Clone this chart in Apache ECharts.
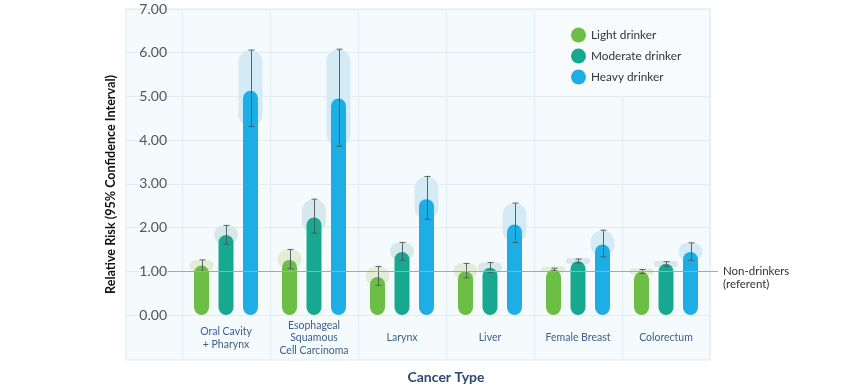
<!DOCTYPE html>
<html>
<head>
<meta charset="utf-8">
<script src="https://cdn.jsdelivr.net/npm/echarts@6/dist/echarts.min.js"></script>
<style>
html,body{margin:0;padding:0;background:#fff;}
#chart{width:850px;height:389px;}
</style>
</head>
<body>
<div id="chart"></div>
<script>
const categories = ['Oral Cavity\n+ Pharynx', 'Esophageal\nSquamous\nCell Carcinoma', 'Larynx', 'Liver', 'Female Breast', 'Colorectum'];
const seriesNames = ['Light drinker', 'Moderate drinker', 'Heavy drinker'];
const light     = [1.13, 1.26, 0.87, 1.00, 1.04, 0.99];
const lightLow  = [1.00, 1.06, 0.68, 0.85, 1.01, 0.95];
const lightHigh = [1.26, 1.50, 1.11, 1.18, 1.07, 1.04];
const moderate  = [1.83, 2.23, 1.44, 1.08, 1.23, 1.17];
const modLow    = [1.62, 1.87, 1.25, 0.97, 1.19, 1.11];
const modHigh   = [2.05, 2.65, 1.66, 1.20, 1.28, 1.22];
const heavy     = [5.13, 4.95, 2.65, 2.07, 1.61, 1.44];
const heavyLow  = [4.31, 3.86, 2.19, 1.66, 1.33, 1.25];
const heavyHigh = [6.06, 6.08, 3.17, 2.56, 1.94, 1.65];
const yTicks = [0, 1, 2, 3, 4, 5, 6, 7];
const referent = 1;
const refLabel = 'Non-drinkers\n(referent)';

const colors = ['#6DBE45', '#17A98F', '#1DAEE5'];
const paleColors = ['#E3ECD6', '#D6E8EA', '#D4EAF5'];
const values = [light, moderate, heavy];
const lows = [lightLow, modLow, heavyLow];
const highs = [lightHigh, modHigh, heavyHigh];

const barW = 15, gapPx = 9.5, bandW = 24;
const FONT = 'Lato';
const gridColor = '#E3EDF3';

const chart = echarts.init(document.getElementById('chart'), null, {renderer: 'canvas'});

function offsetFor(k) { return (k - 1) * (barW + gapPx); }

const series = [];
for (let k = 0; k < 3; k++) {
  series.push({
    name: seriesNames[k] + ' CI band',
    type: 'custom', xAxisIndex: 0, yAxisIndex: 0, z: 1, silent: true,
    data: categories.map((c, i) => [i, lows[k][i], highs[k][i]]),
    renderItem: (params, api) => {
      const p0 = api.coord([api.value(0), api.value(1)]);
      const p1 = api.coord([api.value(0), api.value(2)]);
      const cx = p0[0] + offsetFor(k);
      let top = p1[1], bot = p0[1];
      let h = bot - top;
      if (h < 6) { const m = (top + bot) / 2; top = m - 3; h = 6; }
      return {
        type: 'rect',
        shape: {x: cx - bandW / 2, y: top, width: bandW, height: h, r: Math.min(bandW / 2, h / 2)},
        style: {fill: paleColors[k]}
      };
    }
  });
}
for (let k = 0; k < 3; k++) {
  series.push({
    name: seriesNames[k], type: 'bar', xAxisIndex: 0, yAxisIndex: 0, z: 2,
    barWidth: barW, barGap: (gapPx / barW * 100) + '%',
    itemStyle: {color: colors[k], borderRadius: barW / 2},
    data: values[k]
  });
}
for (let k = 0; k < 3; k++) {
  series.push({
    name: seriesNames[k] + ' CI', type: 'custom', xAxisIndex: 0, yAxisIndex: 0, z: 3, silent: true,
    data: categories.map((c, i) => [i, lows[k][i], highs[k][i]]),
    renderItem: (params, api) => {
      const p0 = api.coord([api.value(0), api.value(1)]);
      const p1 = api.coord([api.value(0), api.value(2)]);
      const cx = Math.round(p0[0] + offsetFor(k)) + 0.5;
      const cap = 3;
      const st = {stroke: '#4A5661', lineWidth: 1, opacity: 0.9};
      return {
        type: 'group', children: [
          {type: 'line', shape: {x1: cx, y1: p0[1], x2: cx, y2: p1[1]}, style: st},
          {type: 'line', shape: {x1: cx - cap, y1: p0[1], x2: cx + cap, y2: p0[1]}, style: st},
          {type: 'line', shape: {x1: cx - cap, y1: p1[1], x2: cx + cap, y2: p1[1]}, style: st}
        ]
      };
    }
  });
}
series.push({
  name: 'referent', type: 'line', xAxisIndex: 4, yAxisIndex: 4, z: 1, silent: true,
  data: [],
  markLine: {
    silent: true, symbol: ['none', 'none'], animation: false,
    lineStyle: {color: '#E8907A', width: 1, type: 'solid'},
    label: {show: true, position: 'end', distance: 5, formatter: '\n' + refLabel,
            fontFamily: FONT, fontSize: 11.5, color: '#333', lineHeight: 13, align: 'left'},
    data: [{yAxis: referent}]
  }
});

const hidden = {show: false};
const option = {
  animation: false,
  backgroundColor: '#fff',
  textStyle: {fontFamily: FONT},
  grid: [
    {left: 182, right: 140, top: 9, bottom: 74},
    {left: 126, right: 140, top: 9, bottom: 74},
    {left: 182, right: 140, top: 9, bottom: 29},
    {left: 126, right: 140, top: 9, bottom: 29, show: true,
     backgroundColor: '#F5FAFD', borderColor: '#E1EBF1', borderWidth: 1, z: -1},
    {left: 168, right: 132, top: 9, bottom: 74}
  ],
  xAxis: [
    {gridIndex: 0, type: 'category', data: categories,
     axisLine: hidden, axisTick: hidden,
     axisLabel: {interval: 0, margin: 23, verticalAlign: 'middle', fontFamily: FONT,
                 fontSize: 10.5, lineHeight: 12.5, color: '#3E5F86'},
     name: 'Cancer Type', nameLocation: 'middle', nameGap: 62,
     nameTextStyle: {fontFamily: FONT, fontWeight: 'bold', fontSize: 14, color: '#2B4A6E', verticalAlign: 'middle'}},
    {gridIndex: 1, type: 'value', min: 0, max: 1, show: false},
    {gridIndex: 2, type: 'category', data: categories,
     axisLine: hidden, axisTick: {show: false, interval: 0}, axisLabel: {show: false, interval: 0},
     splitLine: {show: true, interval: 0, lineStyle: {color: gridColor, width: 1}}},
    {gridIndex: 3, type: 'value', min: 0, max: 1, show: false},
    {gridIndex: 4, type: 'value', min: 0, max: 1, show: false}
  ],
  yAxis: [
    {gridIndex: 0, type: 'value', min: yTicks[0], max: yTicks[yTicks.length - 1], interval: 1,
     axisLine: hidden, axisTick: hidden, splitLine: hidden,
     axisLabel: {margin: 15, fontFamily: FONT, fontSize: 14, color: '#555', formatter: v => v.toFixed(2)}},
    {gridIndex: 1, type: 'value', min: yTicks[0], max: yTicks[yTicks.length - 1], interval: 1,
     axisLine: hidden, axisTick: hidden, axisLabel: hidden,
     splitLine: {show: true, lineStyle: {color: gridColor, width: 1}}},
    {gridIndex: 2, type: 'value', min: 0, max: 1, show: false},
    {gridIndex: 3, type: 'value', min: 0, max: 1,
     axisLine: hidden, axisTick: hidden, axisLabel: hidden, splitLine: hidden,
     name: 'Relative Risk (95% Confidence Interval)', nameLocation: 'middle', nameGap: 9,
     nameTextStyle: {fontFamily: FONT, fontWeight: 'bold', fontSize: 12.6, color: '#111'}},
    {gridIndex: 4, type: 'value', min: yTicks[0], max: yTicks[yTicks.length - 1], show: false}
  ],
  legend: {
    data: seriesNames, orient: 'vertical', left: 571, top: 27.5, padding: 0,
    icon: 'circle', itemWidth: 15, itemHeight: 15, itemGap: 6, itemStyle: {borderWidth: 0},
    textStyle: {fontFamily: FONT, fontSize: 11.8, color: '#333'}, selectedMode: false, z: 5
  },
  graphic: [
    {type: 'rect', z: 1, silent: true, shape: {x: 535, y: 10, width: 174, height: 85.5},
     style: {fill: '#F7FBFD'}}
  ],
  series: series
};
chart.setOption(option);
</script>
</body>
</html>
